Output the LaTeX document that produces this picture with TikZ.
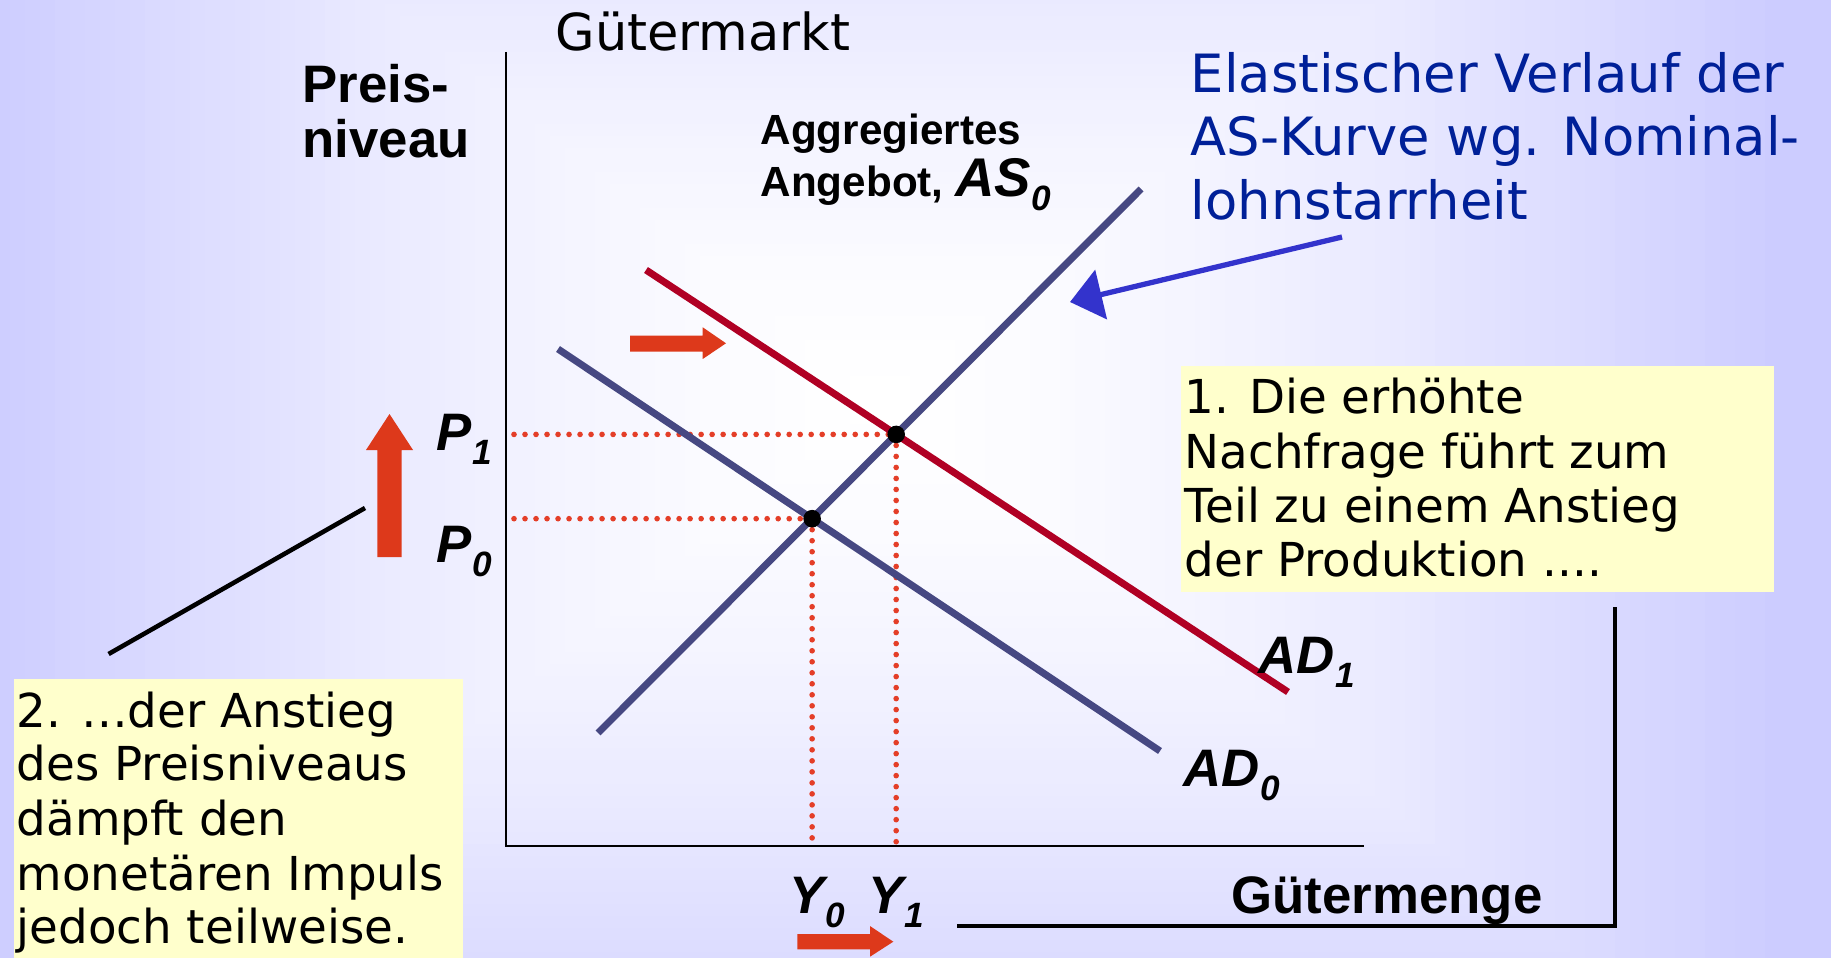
\documentclass[tikz,border=0pt]{standalone}
\usepackage{fontspec}
\setmainfont{Liberation Sans}
\newfontfamily\tahfont{DejaVu Sans}
\usetikzlibrary{arrows.meta}
\definecolor{lav}{RGB}{204,204,255}
\definecolor{navyline}{RGB}{70,72,130}
\definecolor{adred}{RGB}{176,0,36}
\definecolor{orred}{RGB}{221,57,27}
\definecolor{dotred}{RGB}{228,62,40}
\definecolor{arrblue}{RGB}{51,51,204}
\definecolor{txtblue}{RGB}{0,32,152}
\definecolor{yel}{RGB}{255,255,204}
\newcommand\mysub[1]{\kern0.2pt\raisebox{-4pt}{\fontsize{10}{10}\selectfont #1}}
\tikzset{
  axisline/.style={line width=0.8pt, black},
  curveN/.style={line width=2pt, navyline},
  curveR/.style={line width=2pt, adred},
  dotl/.style={dotred, line width=1.6pt, line cap=round, dash pattern=on 0pt off 3.13pt},
  blk/.style={fill=orred},
  lab/.style={inner sep=0pt, anchor=base west, font=\bfseries\fontsize{15}{18}\selectfont},
  labs/.style={inner sep=0pt, anchor=base west, font=\bfseries\fontsize{12}{14}\selectfont},
  labi/.style={inner sep=0pt, anchor=base west, font=\bfseries\itshape\fontsize{15}{18}\selectfont},
  tah/.style={inner sep=0pt, anchor=base west, font=\tahfont\fontsize{13.3}{16}\selectfont},
  bluetxt/.style={inner sep=0pt, anchor=base west, text=txtblue, font=\tahfont\fontsize{15}{18}\selectfont},
  ybox/.style={fill=yel, inner sep=0pt, anchor=north west},
  eq/.style={circle, fill=black, inner sep=0pt, minimum size=5pt},
  blackline/.style={line width=1.3pt, black},
}
\begin{document}
\begin{tikzpicture}[x=0.01cm, y=-0.01cm]
\useasboundingbox (0,0) rectangle (1831,958);
% background: rectangular gradient
\fill[lav] (0,0) rectangle (1831,958);
\begin{scope}
\clip (0,0) rectangle (1831,958);
\foreach \i in {60,59,...,1} {
  \pgfmathtruncatemacro\p{100*(\i/60)^1.5}
  \fill[lav!\p!white] ({880-15*\i},{400-12*\i}) rectangle ({880+15*\i},{400+12*\i});
}
\end{scope}

% coordinates
\coordinate (ytop) at (506,52);
\coordinate (orig) at (506,846);
\coordinate (xend) at (1364,846);
\coordinate (ylft) at (514,0);
\coordinate (as0a) at (598,733);
\coordinate (as0b) at (1141,189);
\coordinate (ad0a) at (558,349);
\coordinate (ad0b) at (1160,751);
\coordinate (ad1a) at (646,270);
\coordinate (ad1b) at (1288,692);
\coordinate (e0) at (intersection of as0a--as0b and ad0a--ad0b);
\coordinate (e1) at (intersection of as0a--as0b and ad1a--ad1b);

% axes
\draw[axisline] (ytop) -- (orig) -- (xend);

% dotted guides
\draw[dotl] (e1 -| ylft) -- (e1);
\draw[dotl] (e0 -| ylft) -- (e0);
\draw[dotl] (e1) -- (e1 |- orig);
\draw[dotl] (e0) -- (e0 |- orig);

% curves
\draw[curveN] (ad0a) -- (ad0b);
\draw[curveR] (ad1a) -- (ad1b);
\draw[curveN] (as0a) -- (as0b);

% equilibrium points
\node[eq] (E0) at (e0) {};
\node[eq] (E1) at (e1) {};

% block arrows
\fill[blk] (377.3,557) -- (401.7,557) -- (401.7,450) -- (413,450) -- (389.5,414) -- (366,450) -- (377.3,450) -- cycle;
\fill[blk] (630,335.7) -- (702.7,335.7) -- (702.7,327.3) -- (726,343.3) -- (702.7,359) -- (702.7,351.7) -- (630,351.7) -- cycle;
\fill[blk] (797.3,934) -- (870,934) -- (870,926) -- (893.3,941.7) -- (870,956.7) -- (870,949.3) -- (797.3,949.3) -- cycle;

% blue arrow
\coordinate (btail) at (1342,237);
\coordinate (btip) at (1070,302);
\draw[arrblue, line width=1.5pt, -{Triangle[length=0.32cm, width=0.5cm]}] (btail) -- (btip);

% black line from box 2
\coordinate (bl1) at (108.6,654);
\coordinate (bl2) at (365,508);
\draw[blackline] (bl1) -- (bl2);

% bracket
\coordinate (brt) at (1615,607);
\coordinate (brc) at (1615,926);
\coordinate (brl) at (957,926);
\draw[blackline] (brt) -- (brc) -- (brl);

% yellow boxes
\node[ybox, minimum width=5.93cm, minimum height=2.26cm] (box1) at (1180,365) {};
\node[ybox, minimum width=4.49cm, minimum height=2.80cm] (box2) at (13,678) {};

% texts
\node[tah] (b1l1) at (1184,413) {1. Die erhöhte};
\node[tah] (b1l2) at (1184,468) {Nachfrage führt zum};
\node[tah] (b1l3) at (1184,522) {Teil zu einem Anstieg};
\node[tah] (b1l4) at (1184,576) {der Produktion ....};

\node[tah] (b2l1) at (16,727) {2. …der Anstieg};
\node[tah] (b2l2) at (16,780) {des Preisniveaus};
\node[tah] (b2l3) at (16,835) {dämpft den};
\node[tah] (b2l4) at (16,890) {monetären Impuls};
\node[tah] (b2l5) at (16,943) {jedoch teilweise.};

\node[bluetxt] (bt1) at (1190,92.7) {Elastischer Verlauf der};
\node[bluetxt] (bt2) at (1190,156) {AS-Kurve wg. Nominal-};
\node[bluetxt] (bt3) at (1190,220) {lohnstarrheit};

\node[inner sep=0pt, anchor=base west, font=\tahfont\fontsize{14.5}{17}\selectfont] (gm) at (555,50.7) {Gütermarkt};
\node[lab] (preis) at (302,103) {Preis-};
\node[lab] (niveau) at (302,158) {niveau};
\node[labs] (aggr) at (760,145) {Aggregiertes};
\node[labs] (angeb) at (760,196.7) {Angebot, {\itshape\fontsize{15.5}{18}\selectfont AS\mysub{0}}};

\node[labi] (p1) at (436,450) {P\mysub{1}};
\node[labi] (p0) at (436,562) {P\mysub{0}};
\node[labi] (y0) at (789,913) {Y\mysub{0}};
\node[labi] (y1) at (868,913) {Y\mysub{1}};
\node[labi] (ad1) at (1258,673) {AD\mysub{1}};
\node[labi] (ad0) at (1183,786) {AD\mysub{0}};
\node[lab] (gmenge) at (1231,913) {Gütermenge};
\end{tikzpicture}
\end{document}
